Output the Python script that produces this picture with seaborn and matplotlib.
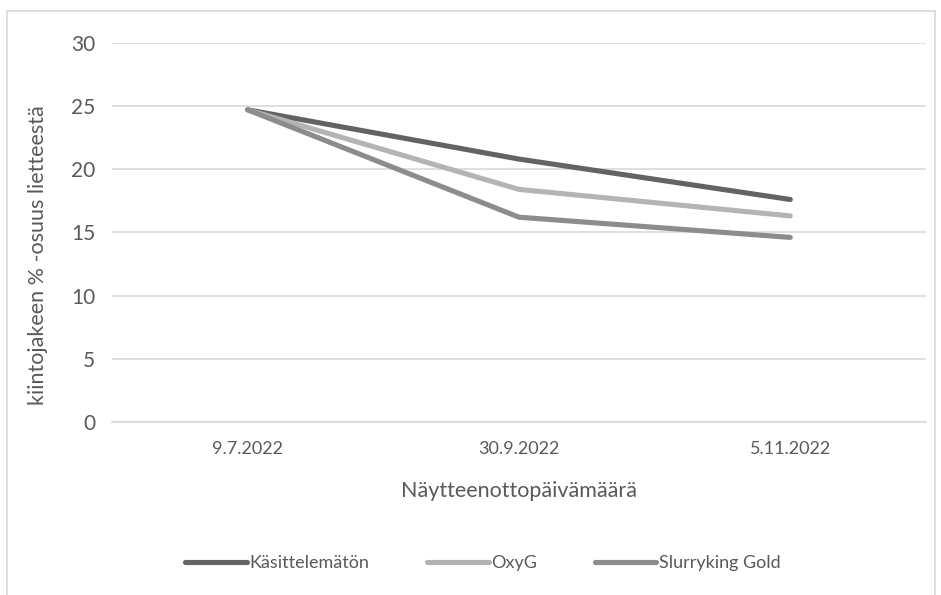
import pandas as pd
import matplotlib.pyplot as plt
import seaborn as sns
from matplotlib.patches import Rectangle

# Data
dates = ['9.7.2022', '30.9.2022', '5.11.2022']
kasittelematon = [24.7, 20.8, 17.6]
oxyg = [24.7, 18.4, 16.3]
slurryking = [24.7, 16.2, 14.6]
series_names = ['Käsittelemätön', 'OxyG', 'Slurryking Gold']
colors = ['#636363', '#b4b4b4', '#8c8c8c']

rows = []
for name, vals in zip(series_names, [kasittelematon, oxyg, slurryking]):
    for i, (d, v) in enumerate(zip(dates, vals)):
        rows.append({'pos': i, 'date': d, 'value': v, 'series': name})
df = pd.DataFrame(rows)

sns.set_theme(style='white')
plt.rcParams['font.family'] = ['Lato', 'DejaVu Sans']
text_color = '#595959'
grid_color = '#d9d9d9'

fig = plt.figure(figsize=(9.41, 5.95), dpi=100)
ax = fig.add_axes([0.119, 0.291, 0.865, 0.637])

sns.lineplot(data=df, x='pos', y='value', hue='series', palette=colors,
             hue_order=series_names, linewidth=3.7, sort=False, ax=ax,
             solid_capstyle='round', legend=True)

ax.set_ylim(0, 30)
ax.set_yticks(range(0, 31, 5))
ax.set_xlim(-0.5, 2.5)
ax.set_xticks(range(len(dates)))
ax.set_xticklabels(dates)
ax.yaxis.grid(True, color=grid_color, linewidth=1.2)
ax.set_axisbelow(True)
for s in ['top', 'right', 'left']:
    ax.spines[s].set_visible(False)
ax.spines['bottom'].set_color(grid_color)
ax.spines['bottom'].set_linewidth(1.2)
ax.tick_params(axis='both', length=0, colors=text_color)
ax.tick_params(axis='x', pad=14, labelsize=13)
ax.tick_params(axis='y', pad=12, labelsize=15)
ax.set_xlabel('Näytteenottopäivämäärä', color=text_color, fontsize=15.5, labelpad=17)
ax.set_ylabel('kiintojakeen % -osuus lietteestä', color=text_color, fontsize=15.5)
ax.yaxis.set_label_coords(-0.079, 0.44)

handles, labels = ax.get_legend_handles_labels()
ax.legend(handles, labels, loc='center', bbox_to_anchor=(483 / 941, 1 - 563 / 595),
          bbox_transform=fig.transFigure, ncol=3, frameon=False, fontsize=13,
          handlelength=3.4, handletextpad=0.15, columnspacing=3.2, labelcolor=text_color)

# outer chart frame
fig.patches.append(Rectangle((7 / 941, -0.01), 928 / 941, 1 - 11 / 595 + 0.01,
                             transform=fig.transFigure, fill=False,
                             edgecolor=grid_color, linewidth=1.2))

fig.savefig('out.png', dpi=100)
